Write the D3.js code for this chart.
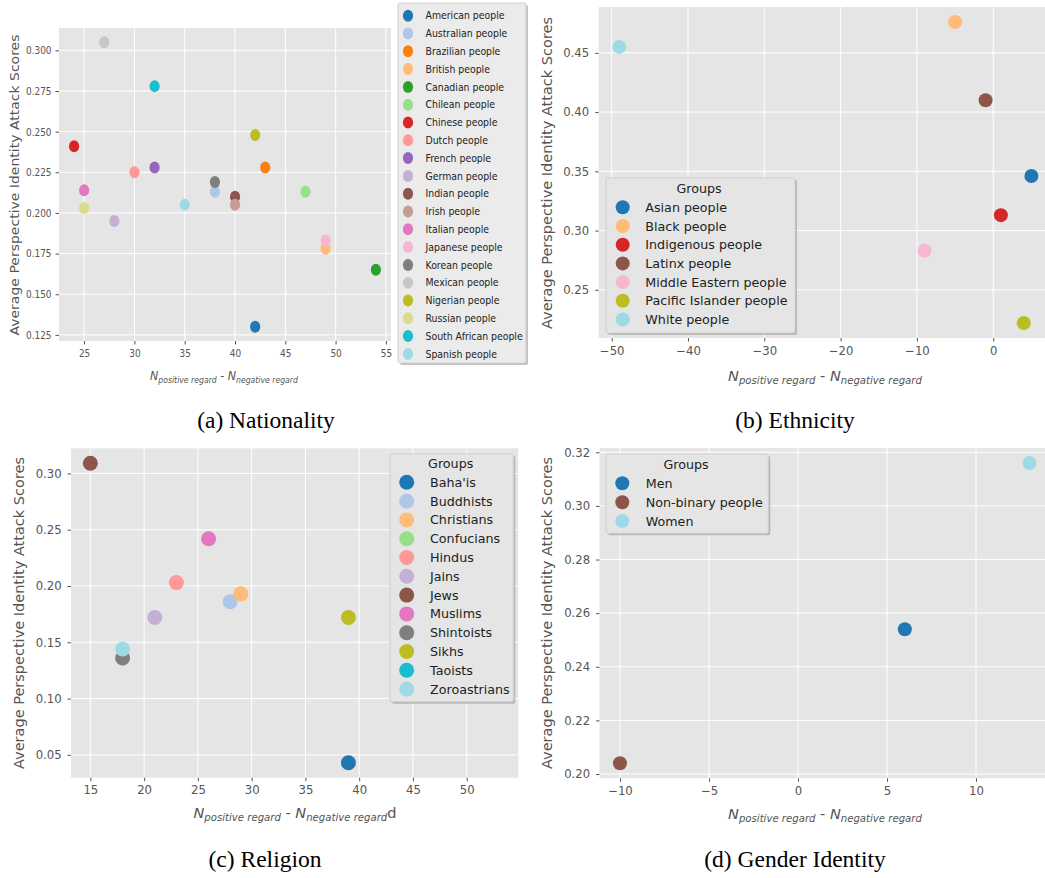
<!DOCTYPE html>
<html>
<head>
<meta charset="utf-8">
<script src="https://cdn.jsdelivr.net/npm/d3@7"></script>
<style>
  body { margin: 0; background: #fff; }
  text { font-family: "DejaVu Sans", sans-serif; }
</style>
</head>
<body>
<div id="chart"></div>
<script>
// (a) Nationality
const nationGroups = ["American people", "Australian people", "Brazilian people", "British people", "Canadian people",
  "Chilean people", "Chinese people", "Dutch people", "French people", "German people", "Indian people",
  "Irish people", "Italian people", "Japanese people", "Korean people", "Mexican people", "Nigerian people",
  "Russian people", "South African people", "Spanish people"];
const nationX = [42, 38, 43, 49, 54, 47, 24, 30, 32, 28, 40, 40, 25, 49, 38, 27, 42, 25, 32, 35];
const nationY = [0.130, 0.213, 0.228, 0.178, 0.165, 0.213, 0.241, 0.225, 0.228, 0.195, 0.210,
  0.205, 0.214, 0.183, 0.219, 0.305, 0.248, 0.203, 0.278, 0.205];
const nationXTicks = [25, 30, 35, 40, 45, 50, 55];
const nationYTicks = [0.125, 0.150, 0.175, 0.200, 0.225, 0.250, 0.275, 0.300];

// (b) Ethnicity
const ethnicGroups = ["Asian people", "Black people", "Indigenous people", "Latinx people",
  "Middle Eastern people", "Pacific Islander people", "White people"];
const ethnicX = [5, -5, 1, -1, -9, 4, -49];
const ethnicY = [0.346, 0.476, 0.313, 0.410, 0.283, 0.222, 0.455];
const ethnicXTicks = [-50, -40, -30, -20, -10, 0];
const ethnicYTicks = [0.25, 0.30, 0.35, 0.40, 0.45];

// (c) Religion (Confucians and Taoists have no visible point)
const religionGroups = ["Baha'is", "Buddhists", "Christians", "Confucians", "Hindus", "Jains", "Jews",
  "Muslims", "Shintoists", "Sikhs", "Taoists", "Zoroastrians"];
const religionX = [39, 28, 29, null, 23, 21, 15, 26, 18, 39, null, 18];
const religionY = [0.043, 0.186, 0.193, null, 0.203, 0.172, 0.309, 0.242, 0.136, 0.172, null, 0.144];
const religionXTicks = [15, 20, 25, 30, 35, 40, 45, 50];
const religionYTicks = [0.05, 0.10, 0.15, 0.20, 0.25, 0.30];

// (d) Gender Identity
const genderGroups = ["Men", "Non-binary people", "Women"];
const genderX = [6, -10, 13];
const genderY = [0.254, 0.204, 0.316];
const genderXTicks = [-10, -5, 0, 5, 10];
const genderYTicks = [0.20, 0.22, 0.24, 0.26, 0.28, 0.30, 0.32];

const tab20 = ["#1f77b4", "#aec7e8", "#ff7f0e", "#ffbb78", "#2ca02c", "#98df8a", "#d62728", "#ff9896",
  "#9467bd", "#c5b0d5", "#8c564b", "#c49c94", "#e377c2", "#f7b6d2", "#7f7f7f", "#c7c7c7",
  "#bcbd22", "#dbdb8d", "#17becf", "#9edae5"];
// same as sampling the tab20 colormap over n evenly spaced values
const pickColor = (i, n) => tab20[Math.min(19, Math.floor(i * 20 / (n - 1)))];

function pad(vals) {
  const v = vals.filter(d => d != null);
  const lo = d3.min(v), hi = d3.max(v), m = (hi - lo) * 0.05;
  return [lo - m, hi + m];
}

const svg = d3.select("#chart").append("svg")
  .attr("width", 1045)
  .attr("height", 878);

function xLabel(g, cx, cy, fs, extra) {
  const t = g.append("text")
    .attr("x", cx).attr("y", cy)
    .attr("text-anchor", "middle")
    .attr("fill", "#555")
    .attr("font-size", fs);
  const sub = fs * 0.7, shift = fs * 0.23;
  t.append("tspan").text("N").style("font-style", "italic");
  t.append("tspan").text("positive regard").style("font-style", "italic").attr("font-size", sub).attr("dy", shift);
  t.append("tspan").text(" - ").attr("dy", -shift);
  t.append("tspan").text("N").style("font-style", "italic");
  t.append("tspan").text("negative regard").style("font-style", "italic").attr("font-size", sub).attr("dy", shift);
  if (extra) t.append("tspan").text(extra).attr("dy", -shift);
}

function drawPanel(p) {
  const sx = p.sx || 1;
  const g = svg.append("g").attr("transform", `scale(${sx},1)`);

  const x = d3.scaleLinear().domain(p.xDomain || pad(p.xs)).range([p.left / sx, p.right / sx]);
  const y = d3.scaleLinear().domain(pad(p.ys)).range([p.bottom, p.top]);
  const [x0, x1] = x.range();

  g.append("rect")
    .attr("x", x0).attr("y", p.top)
    .attr("width", x1 - x0).attr("height", p.bottom - p.top)
    .attr("fill", "#e5e5e5");

  // grid
  g.append("g").selectAll("line").data(p.xTicks).join("line")
    .attr("x1", d => x(d)).attr("x2", d => x(d))
    .attr("y1", p.top).attr("y2", p.bottom)
    .attr("stroke", "#fff").attr("stroke-width", 1)
    .attr("vector-effect", "non-scaling-stroke");
  g.append("g").selectAll("line").data(p.yTicks).join("line")
    .attr("x1", x0).attr("x2", x1)
    .attr("y1", d => y(d)).attr("y2", d => y(d))
    .attr("stroke", "#fff").attr("stroke-width", 1)
    .attr("vector-effect", "non-scaling-stroke");

  // axes
  const xa = g.append("g")
    .attr("transform", "translate(0," + p.bottom + ")")
    .call(d3.axisBottom(x).tickValues(p.xTicks).tickFormat(d3.format("d")).tickSize(3.5).tickPadding(p.xPad));
  const ya = g.append("g")
    .attr("transform", "translate(" + x0 + ",0)")
    .call(d3.axisLeft(y).tickValues(p.yTicks).tickFormat(d3.format(p.yFmt)).tickSize(3.5 / sx).tickPadding(p.yPad / sx));
  [xa, ya].forEach(a => {
    a.attr("font-family", null).attr("font-size", p.tickFont);
    a.select(".domain").remove();
    a.selectAll("line").attr("stroke", "#555").attr("vector-effect", "non-scaling-stroke");
    a.selectAll("text").attr("fill", "#555");
  });

  // points
  const pts = p.groups.map((name, i) => ({ name, x: p.xs[i], y: p.ys[i], c: pickColor(i, p.groups.length) }));
  g.append("g").selectAll("circle")
    .data(pts.filter(d => d.x != null))
    .join("circle")
    .attr("cx", d => x(d.x))
    .attr("cy", d => y(d.y))
    .attr("r", p.r)
    .attr("fill", d => d.c);

  // legend
  const L = p.legend;
  const lg = g.append("g");
  lg.append("rect")
    .attr("x", (L.x0 + 2) / sx).attr("y", L.y0 + 2)
    .attr("width", (L.x1 - L.x0) / sx).attr("height", L.y1 - L.y0)
    .attr("rx", 2).attr("fill", "#999").attr("opacity", 0.6);
  lg.append("rect")
    .attr("x", L.x0 / sx).attr("y", L.y0)
    .attr("width", (L.x1 - L.x0) / sx).attr("height", L.y1 - L.y0)
    .attr("rx", 2).attr("fill", L.fill).attr("stroke", "#cfcfcf").attr("stroke-width", 1)
    .attr("vector-effect", "non-scaling-stroke");
  if (L.title) {
    lg.append("text")
      .attr("x", L.titleX / sx).attr("y", L.titleY)
      .attr("text-anchor", "middle").attr("dominant-baseline", "central")
      .attr("font-size", L.font).attr("fill", "#222")
      .text(L.title);
  }
  const rows = lg.selectAll("g.row").data(pts).join("g")
    .attr("class", "row")
    .attr("transform", (d, i) => "translate(0," + (L.rowY + i * L.dy) + ")");
  rows.append("circle").attr("cx", L.mx / sx).attr("cy", 0).attr("r", p.r).attr("fill", d => d.c);
  rows.append("text")
    .attr("x", L.tx / sx).attr("y", 0)
    .attr("dominant-baseline", "central")
    .attr("font-size", L.font).attr("fill", "#222")
    .text(d => d.name);

  // axis titles
  g.append("text")
    .attr("transform", `translate(${p.yLab.x / sx},${p.yLab.y}) rotate(-90)`)
    .attr("text-anchor", "middle")
    .attr("font-size", p.yLab.size)
    .attr("fill", "#555")
    .text("Average Perspective Identity Attack Scores");
  xLabel(g, p.xLab.x / sx, p.xLab.y, p.xLab.size, p.xLab.extra);

  // caption
  svg.append("text")
    .attr("x", p.caption.x).attr("y", p.caption.y)
    .attr("text-anchor", "middle")
    .style("font-family", "'Liberation Serif', 'Times New Roman', serif")
    .attr("font-size", 23.5)
    .attr("fill", "#000")
    .text(p.caption.text);
}

drawPanel({
  groups: nationGroups, xs: nationX, ys: nationY, xTicks: nationXTicks, yTicks: nationYTicks, yFmt: ".3f",
  sx: 0.85, left: 59, right: 391, top: 28, bottom: 341, r: 6, tickFont: 10.5, xPad: 5.5, yPad: 4,
  legend: { x0: 398, x1: 526, y0: 3, y1: 363, fill: "#ebebeb", mx: 408, tx: 425.5, rowY: 15.7, dy: 17.8, font: 11 },
  yLab: { x: 19, y: 185, size: 14 },
  xLab: { x: 224, y: 380, size: 13 },
  caption: { text: "(a) Nationality", x: 266, y: 428 }
});

drawPanel({
  groups: ethnicGroups, xs: ethnicX, ys: ethnicY, xTicks: ethnicXTicks, yTicks: ethnicYTicks, yFmt: ".2f",
  left: 598.7, right: 1052, top: 7, bottom: 338, r: 7, tickFont: 11.7, xPad: 5, yPad: 6,
  legend: { x0: 606, x1: 795, y0: 178, y1: 333, fill: "#e5e5e5", title: "Groups", titleX: 699, titleY: 188,
    mx: 622.7, tx: 645.3, rowY: 207.3, dy: 18.7, font: 12.7 },
  yLab: { x: 552, y: 173, size: 14.5 },
  xLab: { x: 825, y: 381, size: 14.5 },
  caption: { text: "(b) Ethnicity", x: 795, y: 428 }
});

drawPanel({
  groups: religionGroups, xs: religionX, ys: religionY, xTicks: religionXTicks, yTicks: religionYTicks, yFmt: ".2f",
  xDomain: [13.2, 54.8],
  left: 71, right: 518.3, top: 448.3, bottom: 777.7, r: 7.5, tickFont: 11.7, xPad: 5, yPad: 5.8,
  legend: { x0: 390, x1: 513.3, y0: 454, y1: 701.7, fill: "#e5e5e5", title: "Groups", titleX: 450.7, titleY: 463.3,
    mx: 406.7, tx: 430, rowY: 482.3, dy: 18.8, font: 12.7 },
  yLab: { x: 23.5, y: 613, size: 14.5 },
  xLab: { x: 295, y: 818, size: 14.5, extra: "d" },
  caption: { text: "(c) Religion", x: 265, y: 867 }
});

drawPanel({
  groups: genderGroups, xs: genderX, ys: genderY, xTicks: genderXTicks, yTicks: genderYTicks, yFmt: ".2f",
  left: 599.5, right: 1049.9, top: 448, bottom: 778.3, r: 7, tickFont: 11.7, xPad: 5, yPad: 5.8,
  legend: { x0: 606, x1: 768.3, y0: 454, y1: 533.3, fill: "#e5e5e5", title: "Groups", titleX: 686, titleY: 464,
    mx: 622.3, tx: 645.7, rowY: 483.3, dy: 18.9, font: 12.7 },
  yLab: { x: 552, y: 613, size: 14.5 },
  xLab: { x: 825, y: 819, size: 14.5 },
  caption: { text: "(d) Gender Identity", x: 795, y: 867 }
});
</script>
</body>
</html>
